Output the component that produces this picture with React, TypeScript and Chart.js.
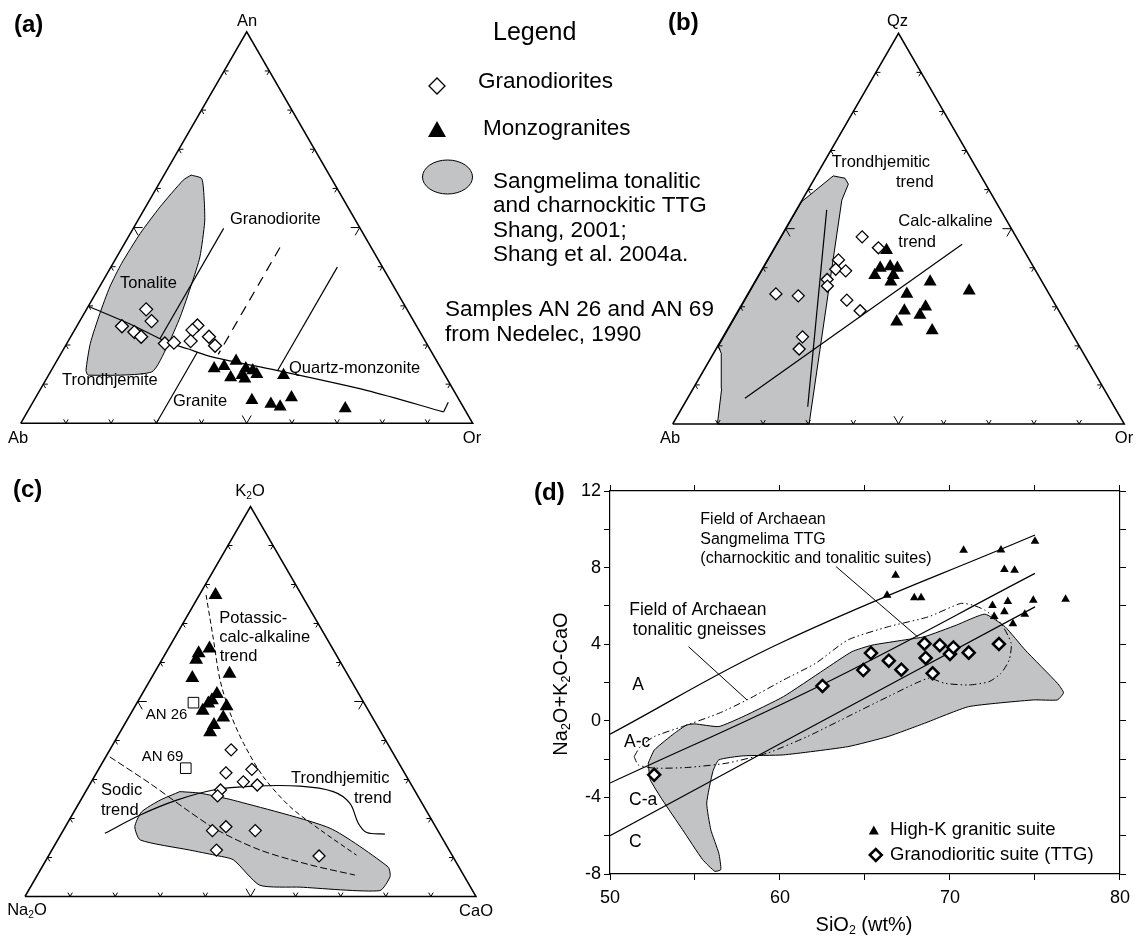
import React, { useEffect, useRef } from "react";
import { Chart, registerables } from "chart.js";

Chart.register(...registerables);

const FONT = "'Liberation Sans', Arial, Helvetica, sans-serif";
const GRAY = "#c2c3c5";
const INK = "#000";

// ===== Panel (a) An–Ab–Or : [An %, Or %]  (Ab = 100 − An − Or)
const aGranodiorites = [[29.1, 13.2], [26.1, 15.9], [24.8, 10.0], [23.3, 13.5], [22.1, 15.6], [20.4, 21.7], [20.6, 23.6], [25.0, 26.6], [23.8, 26.1], [21.0, 27.1], [22.1, 30.6], [19.8, 33.1]];
const aMonzogranites = [[14.0, 35.8], [14.6, 37.7], [15.9, 39.7], [11.7, 40.6], [14.0, 42.8], [11.4, 43.9], [13.5, 44.6], [12.5, 46.0], [12.3, 52.0], [5.9, 48.2], [4.9, 52.9], [4.2, 55.3], [6.6, 56.6], [3.8, 69.9], [12.3, 42.8]];
const aTTGField = [[63.4, 6.0], [62.5, 8.8], [57.0, 12.1], [51.4, 15.0], [42.5, 18.4], [35.7, 20.0], [27.2, 21.7], [19.5, 22.6], [13.1, 22.4], [12.3, 8.8], [13.5, 7.7], [20.4, 5.2], [28.0, 3.5], [34.8, 2.3], [40.8, 1.9], [48.5, 2.2], [55.3, 3.2], [62.1, 4.9], [63.4, 6.0]];
const aTonaliteTrondhjemiteLine = [[29.9, 0], [25.0, 12.4], [20.8, 21.9], [19.1, 27.2], [16.9, 34.1], [13.5, 49.9], [8.4, 72.3], [2.9, 92.1]];
const aLineHook = [[2.9, 92.1], [5.4, 91.9]];
const aGranodioriteLine = [[49.8, 20.0], [21.6, 20.0]];
const aGraniteLine = [[18.2, 30.0], [0, 30.0]];
const aDashedLine = [[44.9, 34.9], [17.6, 34.9]];
const aQtzMonzoniteLine = [[39.9, 50.1], [13.5, 50.1]];

// ===== Panel (b) Qz–Ab–Or : [Qz %, Or %]
const bGranodiorites = [[47.9, 18.0], [45.1, 23.0], [42.0, 15.7], [39.6, 16.3], [39.2, 18.7], [37.0, 15.7], [35.3, 16.6], [33.3, 6.2], [32.8, 11.4], [31.7, 22.7], [29.0, 27.0], [22.3, 17.6], [19.2, 18.4]];
const bMonzogranites = [[44.5, 25.1], [39.9, 26.0], [40.3, 28.0], [39.9, 29.8], [38.1, 25.7], [38.1, 29.8], [36.4, 30.1], [36.4, 38.8], [34.1, 48.6], [33.3, 35.2], [29.0, 36.8], [30.0, 41.0], [27.9, 40.8], [26.2, 36.5], [23.9, 45.5]];
const bTTGField = [[0, 9.9], [9.1, 6.3], [18.1, 1.7], [19.8, 0.2], [56.9, 0.1], [63.5, 3.8], [62.9, 6.7], [61.4, 8.2], [57.3, 8.8], [0, 30.2], [0, 9.9]];
const bTrondhjemiticTrend = [[54.8, 6.7], [4.4, 27.7]];
const bCalcAlkalineTrend = [[6.6, 12.7], [46.0, 41.1]];

// ===== Panel (c) K2O–Na2O–CaO : [K2O %, CaO %]
const cMonzogranites = [[77.3, 3.6], [63.6, 9.1], [62.4, 7.3], [60.7, 7.6], [57.1, 16.8], [56.0, 9.1], [51.9, 16.6], [50.3, 16.3], [49.5, 15.9], [48.8, 20.3], [47.6, 15.6], [45.9, 21.0], [44.0, 19.9], [42.1, 20.0]];
const cGranodiorites = [[37.6, 26.9], [32.6, 34.0], [31.7, 28.7], [29.4, 33.7], [28.6, 37.2], [27.3, 29.7], [25.8, 29.8], [16.9, 33.1], [17.9, 35.6], [16.9, 42.6], [11.9, 36.5], [10.4, 60.0]];
const cNedelecSamples = [[49.7, 12.5], [32.9, 19.2]]; // AN 26, AN 69
const cTTGField = [[26.9, 20.9], [26.5, 25.5], [24.7, 33.8], [17.5, 58.9], [7.6, 76.7], [5.1, 78.4], [1.5, 77.9], [2.4, 59.8], [2.9, 50.6], [9.4, 41.5], [10.6, 36.8], [11.9, 30.6], [14.5, 18.3], [17.9, 15.4], [21.7, 15.0], [24.7, 17.6], [26.9, 20.9]];
const cPotassicTrend = [[77.3, 1.5], [65.8, 8.9], [55.5, 15.5], [47.0, 22.0], [39.3, 28.8], [30.7, 37.5], [23.0, 47.3], [17.1, 56.9], [10.6, 68.2]];
const cSodicTrend = [[35.8, 0.9], [29.0, 13.2], [22.2, 24.8], [17.1, 34.0], [11.9, 46.2], [8.1, 59.2], [5.5, 70.4]];
const cTrondhjemiticTrend = [[16.2, 9.6], [20.9, 15.1], [24.7, 21.3], [27.3, 28.1], [28.3, 36.5], [28.3, 46.8], [26.9, 54.9], [23.9, 60.1], [18.8, 64.5], [16.4, 67.6], [16.0, 71.8]];

// ===== Panel (d) SiO2 vs Na2O+K2O-CaO
const dHighK_SiO2 = [66.3, 66.8, 67.9, 68.3, 70.8, 73.0, 73.2, 73.8, 75.0, 72.5, 73.4, 72.6, 73.2, 73.7, 74.4, 74.9, 76.8];
const dHighK_Index = [6.55, 7.6, 6.42, 6.42, 8.9, 8.92, 7.9, 7.86, 9.38, 6.02, 6.23, 5.45, 5.69, 5.07, 5.57, 6.3, 6.35];
const dTTG_SiO2 = [52.6, 62.5, 64.9, 65.35, 66.4, 67.14, 68.5, 68.57, 68.98, 69.4, 70.0, 70.2, 71.1, 72.88];
const dTTG_Index = [-2.82, 1.82, 2.65, 3.54, 3.14, 2.67, 4.03, 3.28, 2.48, 3.95, 3.49, 3.83, 3.56, 4.01];
const dBoundaryA = [[50, -0.7], [60, 4.05], [75, 9.7]];
const dBoundaryAc = [[50, -3.25], [62.5, 1.9], [75, 7.7]];
const dBoundaryCa = [[50, -6.0], [60, -1.2], [75, 5.95]];
const dTonaliticGneissField = [[51.42, -1.87], [51.78, -1.35], [52.61, -0.82], [54.27, -0.3], [56.4, 0.39], [58.06, 1.09], [60.2, 2.13], [62.09, 3.0], [63.99, 4.22], [66.36, 4.91], [68.73, 5.43], [70.63, 6.13], [71.34, 6.04], [72.05, 5.78], [73.0, 5.08], [73.6, 4.04], [73.48, 3.17], [73.0, 2.48], [72.29, 2.04], [71.1, 1.87], [69.68, 1.96], [68.73, 2.22], [66.36, 1.26], [63.99, 0.22], [61.62, -0.82], [59.25, -1.69], [56.88, -2.21], [54.51, -2.44], [52.61, -2.47], [51.66, -2.3], [51.42, -1.87]];
const dTTGField = [[52.25, -2.21], [52.61, -1.52], [53.79, -0.65], [54.51, -0.22], [54.98, -0.16], [56.4, -0.3], [57.83, 0.22], [60.2, 1.26], [62.57, 2.65], [64.23, 3.61], [65.41, 3.95], [67.31, 4.22], [68.5, 4.39], [70.39, 5.0], [72.05, 5.57], [73.24, 4.91], [74.43, 3.69], [76.32, 1.96], [76.68, 1.47], [76.32, 1.09], [74.9, 1.09], [71.1, 0.74], [68.5, -0.13], [66.36, -0.82], [63.99, -1.35], [60.2, -1.78], [57.83, -1.83], [56.4, -2.04], [56.05, -2.65], [55.69, -4.3], [55.93, -5.69], [56.4, -6.91], [56.52, -7.77], [56.17, -7.86], [55.45, -7.25], [54.27, -5.69], [53.08, -4.13], [52.37, -3.08], [52.25, -2.21]];
const dLeaderGneiss = [[54.62, 3.87], [58.06, 1.09]];
const dLeaderTTG = [[63.3, 8.05], [68.1, 4.38]];

// ternary frame corners [top %, right %]
const frameCorners = [[0, 0], [100, 0], [0, 100], [0, 0]];

// ---------- helpers
type P = number[];
const tern = (p: P) => ({ x: p[1] / 100 + p[0] / 200, y: p[0] / 100 });
const xy = (p: P) => ({ x: p[0], y: p[1] });
const zipXY = (xs: number[], ys: number[]) => xs.map((x, i) => ({ x, y: ys[i] }));

function lineSet(data: any[], opts: any = {}) {
  return { data, showLine: true, pointRadius: 0, pointHoverRadius: 0, borderColor: INK, borderWidth: 1.2, fill: false, tension: 0, order: 2, ...opts };
}
function fieldSet(data: any[], opts: any = {}) {
  return lineSet(data, { fill: "shape", backgroundColor: GRAY, borderWidth: 1, order: 3, ...opts });
}
function pointSet(data: any[], style: string, r: number, opts: any = {}) {
  return { data, showLine: false, pointStyle: style, pointRadius: r, pointHoverRadius: r, pointBackgroundColor: "#fff", pointBorderColor: INK, pointBorderWidth: 1.3, order: 0, ...opts };
}

type Part = [string, number?];
type Label = { t: string | Part[]; x: number; y: number; s: number; b?: boolean; a?: "l" | "c" | "r"; rot?: number };

function drawLabel(ctx: CanvasRenderingContext2D, l: Label, ox: number, oy: number) {
  const parts: Part[] = typeof l.t === "string" ? [[l.t]] : l.t;
  const main = `${l.b ? "bold " : ""}${l.s}px ${FONT}`;
  const sub = `${l.b ? "bold " : ""}${(l.s * 0.62).toFixed(1)}px ${FONT}`;
  ctx.save();
  const widths = parts.map((p) => {
    ctx.font = p[1] ? sub : main;
    return ctx.measureText(p[0]).width;
  });
  const total = widths.reduce((a, b) => a + b, 0);
  ctx.translate(l.x - ox, l.y - oy);
  if (l.rot) ctx.rotate(l.rot);
  ctx.fillStyle = INK;
  ctx.textAlign = "left";
  ctx.textBaseline = "middle";
  let x = l.a === "c" ? -total / 2 : l.a === "r" ? -total : 0;
  parts.forEach((p, i) => {
    ctx.font = p[1] ? sub : main;
    ctx.fillText(p[0], x, p[1] ? l.s * 0.27 : 0);
    x += widths[i];
  });
  ctx.restore();
}

function labelsPlugin(labels: Label[], ox: number, oy: number, extra?: (ctx: CanvasRenderingContext2D, ox: number, oy: number) => void) {
  return {
    id: "textLabels",
    afterDraw(chart: any) {
      const ctx = chart.ctx as CanvasRenderingContext2D;
      labels.forEach((l) => drawLabel(ctx, l, ox, oy));
      if (extra) extra(ctx, ox, oy);
    },
  };
}

const ternaryTicks = {
  id: "ternaryTicks",
  afterDatasetsDraw(chart: any) {
    const sx = chart.scales.x, sy = chart.scales.y;
    const px = (X: number, T: number) => [sx.getPixelForValue(X), sy.getPixelForValue(T)];
    const A = px(0, 0), B = px(0.5, 1), C = px(1, 0), G = px(0.5, 1 / 3);
    const ctx = chart.ctx as CanvasRenderingContext2D;
    ctx.save();
    ctx.strokeStyle = INK;
    ctx.lineWidth = 1;
    for (const [p, q] of [[A, C], [A, B], [B, C]]) {
      const ex = q[0] - p[0], ey = q[1] - p[1];
      const len = Math.hypot(ex, ey);
      let nx = -ey / len, ny = ex / len;
      const mx = (p[0] + q[0]) / 2, my = (p[1] + q[1]) / 2;
      if ((G[0] - mx) * nx + (G[1] - my) * ny < 0) { nx = -nx; ny = -ny; }
      for (let i = 1; i < 10; i++) {
        const tx = p[0] + (ex * i) / 10, ty = p[1] + (ey * i) / 10;
        const L = i === 5 ? 9 : 4.5;
        ctx.beginPath();
        for (const a of [Math.PI / 6, -Math.PI / 6]) {
          const dx = nx * Math.cos(a) - ny * Math.sin(a);
          const dy = nx * Math.sin(a) + ny * Math.cos(a);
          ctx.moveTo(tx, ty);
          ctx.lineTo(tx + dx * L, ty + dy * L);
        }
        ctx.stroke();
      }
    }
    ctx.restore();
  },
};

function baseOptions(scales: any, padding: any = 0) {
  return {
    animation: false,
    responsive: false,
    maintainAspectRatio: false,
    devicePixelRatio: 1,
    events: [],
    layout: { padding, autoPadding: false },
    plugins: { legend: { display: false }, tooltip: { enabled: false }, title: { display: false } },
    scales,
  };
}

type Geo = { cl: number; ct: number; cw: number; ch: number; lx: number; ly: number; s: number; h: number };

function ternaryConfig(geo: Geo, datasets: any[], labels: Label[], extra?: any) {
  const off = geo.lx - geo.cl;
  return {
    type: "line",
    data: { datasets: [lineSet(frameCorners.map(tern), { borderWidth: 1.5, order: 1 }), ...datasets] },
    options: baseOptions({
      x: { type: "linear", display: false, min: -off / geo.s, max: (geo.cw - off) / geo.s },
      y: { type: "linear", display: false, min: (geo.ly - geo.ct - geo.ch) / geo.h, max: (geo.ly - geo.ct) / geo.h },
    }),
    plugins: [ternaryTicks, labelsPlugin(labels, geo.cl, geo.ct, extra)],
  };
}

// ---------- layout (page pixels)
const geoA: Geo = { cl: 0, ct: 0, cw: 720, ch: 460, lx: 20.7, ly: 423.3, s: 452, h: 391.5 };
const geoB: Geo = { cl: 640, ct: 0, cw: 497, ch: 460, lx: 672.7, ly: 424, s: 451.6, h: 390.7 };
const geoC: Geo = { cl: 0, ct: 460, cw: 500, ch: 477, lx: 25, ly: 896.5, s: 451, h: 390 };

const LS = 16.5;
const aLabels: Label[] = [
  { t: "(a)", x: 14, y: 25, s: 24, b: true },
  { t: "An", x: 247, y: 21.5, s: LS, a: "c" },
  { t: "Ab", x: 18, y: 438.5, s: LS, a: "c" },
  { t: "Or", x: 472, y: 438.5, s: LS, a: "c" },
  { t: "Granodiorite", x: 230, y: 219, s: LS },
  { t: "Tonalite", x: 120, y: 283, s: LS },
  { t: "Trondhjemite", x: 62, y: 380, s: LS },
  { t: "Granite", x: 173, y: 401, s: LS },
  { t: "Quartz-monzonite", x: 289, y: 368, s: LS },
  { t: "Legend", x: 493, y: 33, s: 25 },
  { t: "Granodiorites", x: 478, y: 82, s: 22.5 },
  { t: "Monzogranites", x: 483, y: 129, s: 22.5 },
  { t: "Sangmelima tonalitic", x: 493, y: 181.5, s: 22.5 },
  { t: "and charnockitic TTG", x: 493, y: 206, s: 22.5 },
  { t: "Shang, 2001;", x: 493, y: 230.5, s: 22.5 },
  { t: "Shang et al. 2004a.", x: 493, y: 255, s: 22.5 },
  { t: "Samples AN 26 and AN 69", x: 445, y: 310, s: 22.5 },
  { t: "from Nedelec, 1990", x: 445, y: 335, s: 22.5 },
];

const bLabels: Label[] = [
  { t: "(b)", x: 668, y: 23, s: 24, b: true },
  { t: "Qz", x: 897.5, y: 21.5, s: LS, a: "c" },
  { t: "Ab", x: 670, y: 438.5, s: LS, a: "c" },
  { t: "Or", x: 1124, y: 438.5, s: LS, a: "c" },
  { t: "Trondhjemitic", x: 831.7, y: 162.7, s: LS },
  { t: "trend", x: 896, y: 182.5, s: LS },
  { t: "Calc-alkaline", x: 898.3, y: 221.7, s: LS },
  { t: "trend", x: 898.3, y: 242, s: LS },
];

const cLabels: Label[] = [
  { t: "(c)", x: 13, y: 490, s: 24, b: true },
  { t: [["K"], ["2", 1], ["O"]], x: 250, y: 491.7, s: LS, a: "c" },
  { t: [["Na"], ["2", 1], ["O"]], x: 27, y: 910.7, s: LS, a: "c" },
  { t: "CaO", x: 476, y: 911.7, s: LS, a: "c" },
  { t: "Potassic-", x: 219.3, y: 618.3, s: LS },
  { t: "calc-alkaline", x: 219.3, y: 637, s: LS },
  { t: "trend", x: 219.7, y: 656, s: LS },
  { t: "AN 26", x: 145.7, y: 715, s: 15 },
  { t: "AN 69", x: 141.7, y: 756.7, s: 15 },
  { t: "Sodic", x: 101, y: 790, s: LS },
  { t: "trend", x: 101, y: 810, s: LS },
  { t: "Trondhjemitic", x: 291, y: 778.3, s: LS },
  { t: "trend", x: 354, y: 798.3, s: LS },
];

const dLabels: Label[] = [
  { t: "(d)", x: 534, y: 493.5, s: 24, b: true },
  { t: "Field of Archaean", x: 700.3, y: 520, s: 16 },
  { t: "Sangmelima TTG", x: 700.3, y: 539.5, s: 16 },
  { t: "(charnockitic and tonalitic suites)", x: 700.3, y: 558.5, s: 16 },
  { t: "Field of Archaean", x: 629.2, y: 610, s: 17.5 },
  { t: "tonalitic gneisses", x: 632.8, y: 630, s: 17.5 },
  { t: "A", x: 638, y: 685, s: 17.5, a: "c" },
  { t: "A-c", x: 624, y: 741.7, s: 17.5 },
  { t: "C-a", x: 629, y: 800, s: 17.5 },
  { t: "C", x: 629, y: 841.7, s: 17.5 },
  { t: "High-K granitic suite", x: 890, y: 830, s: 18.5 },
  { t: "Granodioritic suite (TTG)", x: 890, y: 855, s: 18.5 },
  { t: [["Na"], ["2", 1], ["O+K"], ["2", 1], ["O-CaO"]], x: 561, y: 684, s: 20, a: "c", rot: -Math.PI / 2 },
  { t: [["SiO"], ["2", 1], [" (wt%)"]], x: 864, y: 925, s: 20, a: "c" },
];

function drawDiamond(ctx: CanvasRenderingContext2D, x: number, y: number, r: number, lw: number) {
  ctx.beginPath();
  ctx.moveTo(x - r, y);
  ctx.lineTo(x, y - r);
  ctx.lineTo(x + r, y);
  ctx.lineTo(x, y + r);
  ctx.closePath();
  ctx.fillStyle = "#fff";
  ctx.fill();
  ctx.lineWidth = lw;
  ctx.strokeStyle = INK;
  ctx.stroke();
}
function drawTri(ctx: CanvasRenderingContext2D, x: number, y: number, w: number, h: number) {
  ctx.beginPath();
  ctx.moveTo(x, y - h / 2);
  ctx.lineTo(x + w / 2, y + h / 2);
  ctx.lineTo(x - w / 2, y + h / 2);
  ctx.closePath();
  ctx.fillStyle = INK;
  ctx.fill();
}

function drawLegendA(ctx: CanvasRenderingContext2D, ox: number, oy: number) {
  ctx.save();
  drawDiamond(ctx, 437 - ox, 86 - oy, 8, 1.3);
  drawTri(ctx, 437 - ox, 129 - oy, 18, 16);
  ctx.beginPath();
  ctx.ellipse(447.5 - ox, 177 - oy, 25, 17, 0, 0, Math.PI * 2);
  ctx.fillStyle = GRAY;
  ctx.fill();
  ctx.lineWidth = 1;
  ctx.strokeStyle = INK;
  ctx.stroke();
  ctx.restore();
}
function drawLegendD(ctx: CanvasRenderingContext2D, ox: number, oy: number) {
  ctx.save();
  drawTri(ctx, 873.8 - ox, 830 - oy, 10, 9);
  drawDiamond(ctx, 875.8 - ox, 855 - oy, 6, 2.5);
  ctx.restore();
}

// ---------- chart configs
function configA() {
  return ternaryConfig(
    geoA,
    [
      fieldSet(aTTGField.map(tern), { tension: 0.2 }),
      lineSet(aTonaliteTrondhjemiteLine.map(tern), { tension: 0.3 }),
      lineSet(aLineHook.map(tern)),
      lineSet(aGranodioriteLine.map(tern)),
      lineSet(aGraniteLine.map(tern)),
      lineSet(aDashedLine.map(tern), { borderDash: [10, 7] }),
      lineSet(aQtzMonzoniteLine.map(tern)),
      pointSet(aMonzogranites.map(tern), "triangle", 7.5, { pointBackgroundColor: INK, pointBorderWidth: 0 }),
      pointSet(aGranodiorites.map(tern), "rectRot", 6.5),
    ],
    aLabels,
    drawLegendA
  );
}
function configB() {
  return ternaryConfig(
    geoB,
    [
      fieldSet(bTTGField.map(tern)),
      lineSet(bTrondhjemiticTrend.map(tern)),
      lineSet(bCalcAlkalineTrend.map(tern)),
      pointSet(bMonzogranites.map(tern), "triangle", 7.5, { pointBackgroundColor: INK, pointBorderWidth: 0 }),
      pointSet(bGranodiorites.map(tern), "rectRot", 6),
    ],
    bLabels
  );
}
function configC() {
  return ternaryConfig(
    geoC,
    [
      fieldSet(cTTGField.map(tern), { tension: 0.2 }),
      lineSet(cPotassicTrend.map(tern), { borderDash: [5, 3], borderWidth: 1, tension: 0.3 }),
      lineSet(cSodicTrend.map(tern), { borderDash: [7, 3], borderWidth: 1, tension: 0.3 }),
      lineSet(cTrondhjemiticTrend.map(tern), { tension: 0.35 }),
      pointSet(cMonzogranites.map(tern), "triangle", 8, { pointBackgroundColor: INK, pointBorderWidth: 0 }),
      pointSet(cNedelecSamples.map(tern), "rect", 7.5, { pointBorderWidth: 1 }),
      pointSet(cGranodiorites.map(tern), "rectRot", 6),
    ],
    cLabels
  );
}
function configD() {
  const tickFont = { family: FONT, size: 18 };
  const axis = (pos: string, extra: any) => ({
    type: "linear",
    position: pos,
    grid: { drawOnChartArea: false, color: INK, tickLength: 6, tickWidth: 1 },
    border: { color: INK, width: 1.2 },
    ...extra,
  });
  return {
    type: "line",
    data: {
      datasets: [
        fieldSet(dTTGField.map(xy), { tension: 0.15 }),
        lineSet(dTonaliticGneissField.map(xy), { borderDash: [7, 3, 1.5, 3, 1.5, 3], borderWidth: 1, tension: 0.2 }),
        lineSet(dBoundaryA.map(xy), { tension: 0.4 }),
        lineSet(dBoundaryAc.map(xy), { tension: 0.4 }),
        lineSet(dBoundaryCa.map(xy), { tension: 0.4 }),
        lineSet(dLeaderGneiss.map(xy), { borderWidth: 1 }),
        lineSet(dLeaderTTG.map(xy), { borderWidth: 1 }),
        pointSet(zipXY(dHighK_SiO2, dHighK_Index), "triangle", 5, { pointBackgroundColor: INK, pointBorderWidth: 0 }),
        pointSet(zipXY(dTTG_SiO2, dTTG_Index), "rectRot", 6, { pointBorderWidth: 2.5 }),
      ],
    },
    options: baseOptions(
      {
        x: axis("bottom", {
          min: 50, max: 80,
          ticks: { stepSize: 5, autoSkip: false, maxRotation: 0, padding: 7, color: INK, font: tickFont, callback: (v: number) => (v % 10 === 0 ? String(v) : "") },
          afterFit: (s: any) => { s.height = 60; },
        }),
        x2: axis("top", {
          min: 50, max: 80,
          ticks: { stepSize: 5, autoSkip: false, maxRotation: 0, callback: () => "" },
          afterFit: (s: any) => { s.height = 6; },
        }),
        y: axis("left", {
          min: -8, max: 12,
          ticks: { stepSize: 2, autoSkip: false, padding: 3, color: INK, font: tickFont, callback: (v: number) => (v % 4 === 0 ? String(v) : "") },
          afterFit: (s: any) => { s.width = 110; },
        }),
        y2: axis("right", {
          min: -8, max: 12,
          ticks: { stepSize: 2, autoSkip: false, callback: () => "" },
          afterFit: (s: any) => { s.width = 6; },
        }),
      },
      { top: 25, right: 7, bottom: 3, left: 0 }
    ),
    plugins: [labelsPlugin(dLabels, 500, 460, drawLegendD)],
  };
}

function ChartCanvas({ rect, make }: { rect: number[]; make: () => any }) {
  const ref = useRef<HTMLCanvasElement | null>(null);
  useEffect(() => {
    if (!ref.current) return;
    const chart = new Chart(ref.current, make());
    return () => chart.destroy();
  }, []);
  const [left, top, width, height] = rect;
  return <canvas ref={ref} width={width} height={height} style={{ position: "absolute", left, top, width, height }} />;
}

export default function App() {
  return (
    <div style={{ position: "absolute", left: 0, top: 0, width: 1137, height: 937, background: "#fff", overflow: "hidden" }}>
      <ChartCanvas rect={[0, 460, 500, 477]} make={configC} />
      <ChartCanvas rect={[500, 460, 637, 477]} make={configD} />
      <ChartCanvas rect={[640, 0, 497, 460]} make={configB} />
      <ChartCanvas rect={[0, 0, 720, 460]} make={configA} />
    </div>
  );
}
